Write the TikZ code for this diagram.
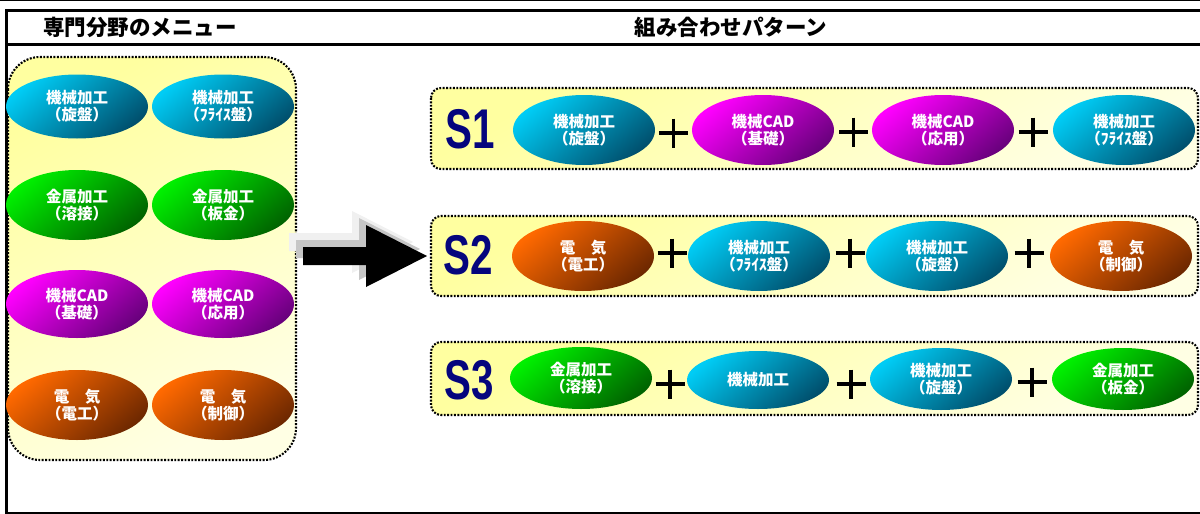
\documentclass[tikz,border=0pt]{standalone}
\usepackage{fontspec}
\usetikzlibrary{shapes.geometric}
\newfontfamily\cjk{Noto Sans CJK JP}
\newfontfamily\narrowfont[FakeStretch=0.72]{Liberation Sans}
\definecolor{bluehi}{RGB}{0,204,245}
\definecolor{bluelo}{RGB}{0,80,110}
\definecolor{greenhi}{RGB}{0,240,0}
\definecolor{greenlo}{RGB}{0,100,0}
\definecolor{maghi}{RGB}{255,0,255}
\definecolor{maglo}{RGB}{105,0,125}
\definecolor{orahi}{RGB}{255,105,0}
\definecolor{oralo}{RGB}{110,40,0}
\definecolor{panelhi}{RGB}{255,255,160}
\definecolor{panello}{RGB}{255,255,228}
\definecolor{navy}{RGB}{5,5,125}
\tikzset{
  ell/.style={ellipse, minimum width=142, minimum height=68, inner sep=0,
    text=white, font=\cjk\bfseries\fontsize{15.5}{17}\selectfont, align=center},
  blueE/.style={ell, top color=bluehi, bottom color=bluelo, shading angle=40},
  greenE/.style={ell, top color=greenhi, bottom color=greenlo, shading angle=40},
  magE/.style={ell, top color=maghi, bottom color=maglo, shading angle=40},
  oraE/.style={ell, top color=orahi, bottom color=oralo, shading angle=40},
  dotbox/.style={line width=2.1, dash pattern=on 1.9 off 1.5,
    top color=panelhi, bottom color=panello, shading angle=30},
  slabel/.style={text=navy, font=\narrowfont\bfseries\fontsize{56}{56}\selectfont, inner sep=0},
  header/.style={font=\cjk\bfseries\fontsize{21.5}{23}\selectfont, inner sep=0},
  plussign/.pic={\draw[line width=3.6] (-14.5,0) -- (14.5,0) (0,-14.5) -- (0,14.5);}
}
\begin{document}
\begin{tikzpicture}[x=1pt,y=-1pt]
\useasboundingbox (0,0) rectangle (1200,514);
\fill[white] (0,0) rectangle (1200,514);
% frame
\draw[line width=1] (0,0.5) -- (1200,0.5);
\draw[line width=3] (5,10.5) -- (1200,10.5);
\draw[line width=3] (5,44.5) -- (1200,44.5);
\draw[line width=3] (6.5,9) -- (6.5,513);
\draw[line width=1.6] (5,512.8) -- (1200,512.8);
\node[header] (h1) at (140,27) {専門分野のメニュー};
\node[header] (h2) at (731,27) {組み合わせパターン};
% left panel
\draw[dotbox, rounded corners=32] (8,57) rectangle (296,460);
\node[blueE, minimum height=64] (m1) at (77,106.5) {機械加工\\（旋盤）};
\node[blueE, minimum height=64] (m2) at (223,106.5) {機械加工\\（ﾌﾗｲｽ盤）};
\node[greenE, minimum height=70] (m3) at (77,205) {金属加工\\（溶接）};
\node[greenE, minimum height=70] (m4) at (223,205) {金属加工\\（板金）};
\node[magE] (m5) at (77,304) {機械CAD\\（基礎）};
\node[magE] (m6) at (223,304) {機械CAD\\（応用）};
\node[oraE, minimum height=70] (m7) at (77,405) {電　気\\（電工）};
\node[oraE, minimum height=70] (m8) at (223,405) {電　気\\（制御）};
% big arrow with shadow
\fill[gray!12] (289,233) -- (352,233) -- (352,211) -- (413,242) -- (352,273) -- (352,251) -- (289,251) -- cycle;
\fill[gray!45] (296,240) -- (359,240) -- (359,218) -- (420,249) -- (359,280) -- (359,258) -- (296,258) -- cycle;
\fill[black] (303,247) -- (366,247) -- (366,225) -- (427,256) -- (366,287) -- (366,265) -- (303,265) -- cycle;
% S1
\draw[dotbox, rounded corners=10] (431,88) rectangle (1198,169);
\node[slabel] (s1) at (470,129) {S1};
\node[blueE, minimum height=70] (a1) at (584,130) {機械加工\\（旋盤）};
\node[magE, minimum height=70] (a2) at (763,130) {機械CAD\\（基礎）};
\node[magE, minimum height=70] (a3) at (943,130) {機械CAD\\（応用）};
\node[blueE, minimum height=70] (a4) at (1124,130) {機械加工\\（ﾌﾗｲｽ盤）};
\pic at (673.5,133) {plussign};
\pic at (853.5,132) {plussign};
\pic at (1033,132) {plussign};
% S2
\draw[dotbox, rounded corners=10] (431,216) rectangle (1198,296);
\node[slabel] (s2) at (468,255) {S2};
\node[oraE, minimum height=70] (b1) at (583,256) {電　気\\（電工）};
\node[blueE, minimum height=70] (b2) at (759,256) {機械加工\\（ﾌﾗｲｽ盤）};
\node[blueE, minimum height=70] (b3) at (937,256) {機械加工\\（旋盤）};
\node[oraE, minimum height=70] (b4) at (1121,256) {電　気\\（制御）};
\pic at (672,253) {plussign};
\pic at (850,253) {plussign};
\pic at (1029,253) {plussign};
% S3
\draw[dotbox, rounded corners=10] (431,342) rectangle (1198,415);
\node[slabel] (s3) at (469,380) {S3};
\node[greenE, minimum height=62] (c1) at (581,378) {金属加工\\（溶接）};
\node[blueE, minimum height=58] (c2) at (758,380) {機械加工};
\node[blueE, minimum height=62] (c3) at (941,379) {機械加工\\（旋盤）};
\node[greenE, minimum height=62] (c4) at (1123,379) {金属加工\\（板金）};
\pic at (670,384) {plussign};
\pic at (851,384) {plussign};
\pic at (1032,382) {plussign};
\end{tikzpicture}
\end{document}
